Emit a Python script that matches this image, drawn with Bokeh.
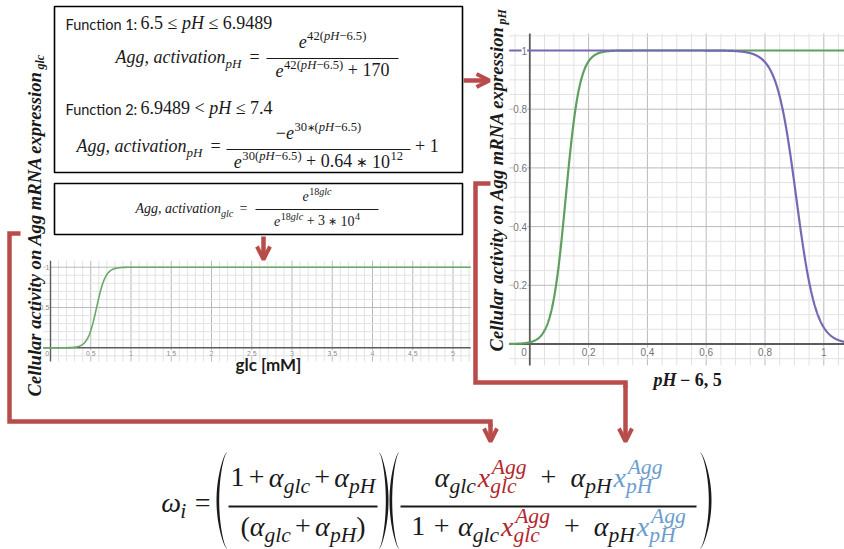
import numpy as np
from bokeh.plotting import figure
from bokeh.models import Range1d, ColumnDataSource, Arrow, OpenHead
from bokeh.embed import file_html
from bokeh.resources import INLINE

W, H = 844, 549

# colours and fonts
INK = "#1a1a1a"
RED = "#b84c4b"
GLC_RED = "#b3272d"
PH_BLUE = "#6b9ccf"
GREEN_GLC = "#6aa86a"
GREEN_PH = "#5f9f5f"
PURPLE = "#7568b5"
MINOR = "#e2e2e2"
MAJOR = "#bababa"
AXIS = "#5c5c5c"
SERIF = "Liberation Serif"
SANS = "Lato"
TICK_FONT = "Liberation Sans"

# activation curves: e^(k x) / (e^(k x) + c)
GLC_RATE, GLC_OFFSET = 18.0, 3.0e4
PH_RISE_RATE, PH_RISE_OFFSET = 42.0, 170.0
PH_FALL_RATE, PH_FALL_OFFSET = 30.0, 0.64e12

# tick marks
GLC_X_TICKS = [0, 0.5, 1, 1.5, 2, 2.5, 3, 3.5, 4, 4.5, 5]
GLC_X_LABELS = ["0", "0.5", "1", "1.5", "2", "2.5", "3", "3.5", "4", "4.5", "5"]
GLC_Y_TICKS = [0.5, 1]
GLC_Y_LABELS = ["0.5", "1"]
PH_X_TICKS = [0, 0.2, 0.4, 0.6, 0.8, 1]
PH_X_LABELS = ["0", "0.2", "0.4", "0.6", "0.8", "1"]
PH_Y_TICKS = [0.2, 0.4, 0.6, 0.8, 1]
PH_Y_LABELS = ["0.2", "0.4", "0.6", "0.8", "1"]

# visible windows of the two graphs (data units)
GLC_WIN_X = (-0.09, 5.22)
GLC_WIN_Y = (-0.17, 1.08)
PH_WIN_X = (-0.07, 1.07)
PH_WIN_Y = (-0.073, 1.058)

# placement of the graphs on the page: (pixel of zero, pixels per unit)
GLC_PX = (50.0, 80.5)
GLC_PY = (347.3, 80.6)
PH_PX = (529.3, 294.0)
PH_PY = (343.5, 293.5)

p = figure(width=W, height=H, x_range=Range1d(0, W), y_range=Range1d(H, 0),
           output_backend="svg", toolbar_location=None, min_border=0,
           x_axis_location=None, y_axis_location=None,
           background_fill_color="white", border_fill_color="white",
           outline_line_color=None)
p.xgrid.visible = False
p.ygrid.visible = False


def x_span(origin, scale):
    return Range1d(start=(0 - origin) / scale, end=(W - origin) / scale)


def y_span(origin, scale):
    return Range1d(start=(origin - H) / scale, end=origin / scale)


p.extra_x_ranges = {"glc": x_span(*GLC_PX), "ph": x_span(*PH_PX)}
p.extra_y_ranges = {"glc_act": y_span(*GLC_PY), "ph_act": y_span(*PH_PY)}

# ---------------------------------------------------------------- text helpers
texts = {}
BASE_SHIFT = 0.4   # alphabetic anchor correction, in em


def put(x, y, s, size, style="normal", color=INK, font=SERIF, align="left",
        baseline="alphabetic", angle=0.0, xr="default", yr="default", halo=False):
    if baseline == "alphabetic":
        if angle:
            x -= BASE_SHIFT * size
        else:
            y -= BASE_SHIFT * size
    key = (align, baseline, xr, yr, halo)
    d = texts.setdefault(key, {k: [] for k in
                               ("x", "y", "text", "size", "style", "color", "font", "angle")})
    d["x"].append(x)
    d["y"].append(y)
    d["text"].append(s)
    d["size"].append(f"{size:.1f}px")
    d["style"].append(style)
    d["color"].append(color)
    d["font"].append(font)
    d["angle"].append(angle)


STYLE = {"r": "normal", "i": "italic", "b": "bold", "bi": "bold italic"}
RM_W = dict.fromkeys("0123456789", 0.5)
RM_W.update({" ": 0.25, ".": 0.25, ",": 0.25, "+": 0.564, "=": 0.564, "<": 0.564,
             "≤": 0.549, "−": 0.564, "∗": 0.6, "(": 0.333, ")": 0.333,
             "[": 0.333, "]": 0.333})
IT_W = dict(RM_W)
IT_W.update({"A": 0.611, "H": 0.722, "a": 0.5, "c": 0.444, "e": 0.444, "g": 0.5,
             "i": 0.278, "l": 0.278, "n": 0.5, "o": 0.5, "p": 0.5, "t": 0.278,
             "v": 0.444, "x": 0.444, "α": 0.53, "ω": 0.68})


def seg_width(text, st, size):
    table = IT_W if "i" in st else RM_W
    return size * sum(table.get(c, 0.5) for c in text)


def T(*segs, color=INK):
    return ("t", segs, color)


def SUP(*segs, color=INK):
    return ("sup", segs, color)


def SUB(*segs, color=INK):
    return ("sub", segs, color)


def SS(sup, sub, color=INK):
    return ("ss", sup, sub, color)


def GAP(em):
    return ("gap", em)


def put_segs(segs, x, y, size, color, draw, font):
    # spaces are advanced over rather than drawn (svg drops edge whitespace)
    for text, st in segs:
        core = text.strip(" ")
        lead = seg_width(text[:len(text) - len(text.lstrip(" "))], st, size)
        if draw and core == "∗":
            put(x + lead + 0.3 * size, y - 0.05 * size, core, 0.8 * size, STYLE[st],
                color, font, align="center")
        elif draw and core:
            put(x + lead, y, core, size, STYLE[st], color, font)
        x += seg_width(text, st, size)
    return x


def layout(items, x, base, m, draw=True, font=SERIF, script=0.72):
    s = script * m
    for it in items:
        kind = it[0]
        if kind == "gap":
            x += it[1] * m
        elif kind == "t":
            x = put_segs(it[1], x, base, m, it[2], draw, font)
        elif kind == "sup":
            x = put_segs(it[1], x + 0.5, base - 0.42 * m, s, it[2], draw, font)
        elif kind == "sub":
            x = put_segs(it[1], x, base + 0.22 * m, s, it[2], draw, font)
        elif kind == "ss":
            x1 = put_segs(it[1], x + 0.06 * m, base - 0.46 * m, s, it[3], draw, font)
            x2 = put_segs(it[2], x, base + 0.22 * m, s, it[3], draw, font)
            x = max(x1, x2)
    return x


def layout_to(items, x_end, base, m, **kw):
    wid = layout(items, 0, 0, m, draw=False, **kw)
    return layout(items, x_end - wid, base, m, **kw)


bars = {"x0": [], "x1": [], "y": [], "w": []}


def bar(x0, x1, y, lw):
    bars["x0"].append(x0)
    bars["x1"].append(x1)
    bars["y"].append(y)
    bars["w"].append(lw)


def fraction(x0, x1, bar_y, num, den, m, num_base, den_base, lw=1.2, script=0.72):
    bar(x0, x1, bar_y, lw)
    for items, base in ((num, num_base), (den, den_base)):
        wid = layout(items, 0, 0, m, draw=False, script=script)
        layout(items, (x0 + x1 - wid) / 2, base, m, script=script)
    return x1


def paren(x_tip, x_out, y0, y1, weight=2.3):
    t = np.linspace(0.0, 1.0, 60)
    s = np.sin(np.pi * t)
    ys = y0 + (y1 - y0) * t
    outer = x_tip + (x_out - x_tip) * s ** 0.7
    inner = outer + np.sign(x_tip - x_out) * (0.4 + weight * s)
    p.patch(np.r_[outer, inner[::-1]], np.r_[ys, ys[::-1]],
            fill_color=INK, line_color=None)


# ---------------------------------------------------------------- graph grids
def grid(xr, yr, win_x, win_y, minor, per_major, axis_w):
    for vertical, win in ((True, win_x), (False, win_y)):
        ks = np.arange(int(np.ceil(win[0] / minor - 1e-9)),
                       int(np.floor(win[1] / minor + 1e-9)) + 1)
        for major, color in ((False, MINOR), (True, MAJOR)):
            vals = np.array([k * minor for k in ks if k != 0 and (k % per_major == 0) == major])
            if len(vals) == 0:
                continue
            if vertical:
                p.segment(x0=vals, y0=win_y[0], x1=vals, y1=win_y[1], line_color=color,
                          line_width=1, x_range_name=xr, y_range_name=yr)
            else:
                p.segment(x0=win_x[0], y0=vals, x1=win_x[1], y1=vals, line_color=color,
                          line_width=1, x_range_name=xr, y_range_name=yr)
    p.segment(x0=[win_x[0], 0], y0=[0, win_y[0]], x1=[win_x[1], 0], y1=[0, win_y[1]],
              line_color=AXIS, line_width=axis_w, x_range_name=xr, y_range_name=yr)


grid("glc", "glc_act", GLC_WIN_X, GLC_WIN_Y, 0.1, 5, 1.4)
grid("ph", "ph_act", PH_WIN_X, PH_WIN_Y, 0.05, 4, 1.8)

# ---------------------------------------------------------------- curves
glc = np.linspace(*GLC_WIN_X, 800)
glc_act = 1.0 / (1.0 + GLC_OFFSET * np.exp(-GLC_RATE * glc))
p.line(glc, glc_act, line_color=GREEN_GLC, line_width=1.6,
       x_range_name="glc", y_range_name="glc_act")

ph = np.linspace(*PH_WIN_X, 1200)
ph_rise = 1.0 / (1.0 + PH_RISE_OFFSET * np.exp(-PH_RISE_RATE * ph))
ph_fall = 1.0 - 1.0 / (1.0 + PH_FALL_OFFSET * np.exp(-PH_FALL_RATE * ph))
p.line(ph, ph_rise, line_color=GREEN_PH, line_width=2.2,
       x_range_name="ph", y_range_name="ph_act")
p.line(ph, ph_fall, line_color=PURPLE, line_width=2.2,
       x_range_name="ph", y_range_name="ph_act")

# ---------------------------------------------------------------- tick labels
for v, lab in zip(GLC_X_TICKS, GLC_X_LABELS):
    put(v if v else -0.04, -0.065, lab, 7, color="#8a8a8a", font=TICK_FONT,
        align="center", baseline="middle", xr="glc", yr="glc_act", halo=True)
for v, lab in zip(GLC_Y_TICKS, GLC_Y_LABELS):
    put(-0.015, v, lab, 7, color="#8a8a8a", font=TICK_FONT,
        align="right", baseline="middle", xr="glc", yr="glc_act", halo=True)
for v, lab in zip(PH_X_TICKS, PH_X_LABELS):
    put(v if v else -0.02, -0.026, lab, 10, color="#747474", font=TICK_FONT,
        align="center", baseline="middle", xr="ph", yr="ph_act", halo=True)
for v, lab in zip(PH_Y_TICKS, PH_Y_LABELS):
    put(-0.009, v, lab, 10, color="#747474", font=TICK_FONT,
        align="right", baseline="middle", xr="ph", yr="ph_act", halo=True)

# axis titles
put(268, 371, "glc [mM]", 17, "bold", INK, SANS, align="center")
layout([T(("pH", "bi"), (" − 6, 5", "b"))], 653, 387, 18)

put(41, 70, "Cellular activity on Agg mRNA expression", 18.6, "bold italic",
    align="right", angle=np.pi / 2)
put(44, 69, "glc", 12, "bold italic", align="left", angle=np.pi / 2)
put(503, 25, "Cellular activity on Agg mRNA expression", 18.6, "bold italic",
    align="right", angle=np.pi / 2)
put(506, 24, "pH", 12, "bold italic", align="left", angle=np.pi / 2)

# ---------------------------------------------------------------- formula boxes
p.quad(left=[54, 54], right=[462, 462], top=[6, 183], bottom=[172, 234],
       fill_color="white", line_color="black", line_width=1.6)

EQ = 18
put(65, 30, "Function 1:", 14.5, font=SANS)
layout([T(("6.5 ≤ ", "r"), ("pH", "i"), (" ≤ 6.9489", "r"))], 140, 30, 18)
lhs_ph = [T(("Agg, activation", "i")), SUB(("pH", "i")), GAP(0.45), T(("=", "r"))]
layout(lhs_ph, 115, 64, EQ)
ph_sup = [("42(", "r"), ("pH", "i"), ("−6.5)", "r")]
fraction(266, 398, 58, [T(("e", "i")), SUP(*ph_sup)],
         [T(("e", "i")), SUP(*ph_sup), T((" + 170", "r"))], EQ, 48, 77, script=0.7)

put(65, 115, "Function 2:", 14.5, font=SANS)
layout([T(("6.9489 < ", "r"), ("pH", "i"), (" ≤ 7.4", "r"))], 140, 115, 18)
layout(lhs_ph, 76, 153, EQ)
fraction(226, 410, 149,
         [T(("−", "r"), ("e", "i")),
          SUP(("30", "r"), ("∗", "r"), ("(", "r"), ("pH", "i"), ("−6.5)", "r"))],
         [T(("e", "i")), SUP(("30(", "r"), ("pH", "i"), ("−6.5)", "r")),
          T((" + 0.64 ", "r"), ("∗", "r"), (" 10", "r")), SUP(("12", "r"))],
         EQ, 139, 168, script=0.7)
layout([T((" + 1", "r"))], 410, 153, EQ)

layout_to([T(("Agg, activation", "i")), SUB(("glc", "i")), GAP(0.45), T(("=", "r"))],
          247, 214, 14)
fraction(255, 378, 209, [T(("e", "i")), SUP(("18", "r"), ("glc", "i"))],
         [T(("e", "i")), SUP(("18", "r"), ("glc", "i")),
          T((" + 3 ", "r"), ("∗", "r"), (" 10", "r")), SUP(("4", "r"))], 14, 201, 226)

# ---------------------------------------------------------------- combined formula
M = 28
SC = 0.77
NB, DB, BAR_Y = 488, 537, 506
Y0, Y1 = 452, 548
layout_to([T(("ω", "i")), SUB(("i", "i")), GAP(0.3), T(("=", "r"))], 210, 513, M, script=SC)
paren(226, 216, Y0, Y1)
plus = [GAP(0.15), T(("+", "r")), GAP(0.15)]
fraction(228, 377, BAR_Y,
         [T(("1", "r"))] + plus + [T(("α", "i")), SUB(("glc", "i"))] + plus +
         [T(("α", "i")), SUB(("pH", "i"))],
         [T(("(", "r"), ("α", "i")), SUB(("glc", "i"))] + plus +
         [T(("α", "i")), SUB(("pH", "i")), T((")", "r"))],
         M, NB, DB, lw=1.8, script=SC)
paren(379, 388, Y0, Y1)
paren(398, 389, Y0, Y1)

glc_term = [T(("α", "i")), SUB(("glc", "i")), GAP(0.07), T(("x", "i"), color=GLC_RED),
            SS((("Agg", "i"),), (("glc", "i"),), GLC_RED)]
ph_term = [T(("α", "i")), SUB(("pH", "i")), GAP(0.07), T(("x", "i"), color=PH_BLUE),
           SS((("Agg", "i"),), (("pH", "i"),), PH_BLUE)]
wide_plus = [GAP(0.5), T(("+", "r")), GAP(0.5)]
fraction(400, 696, BAR_Y,
         glc_term + wide_plus + ph_term,
         [T(("1", "r")), GAP(0.3), T(("+", "r")), GAP(0.3)] + glc_term + wide_plus + ph_term,
         M, NB, DB, lw=1.8, script=SC)
paren(700, 711, Y0, Y1)

p.segment(x0="x0", y0="y", x1="x1", y1="y", line_width="w", line_color=INK,
          source=ColumnDataSource(bars))

# ---------------------------------------------------------------- connectors
p.line([20, 9, 9, 490, 490], [233, 233, 421, 421, 426], line_color=RED,
       line_width=4.5, line_join="miter")
p.line([490, 475, 475, 625, 625], [183, 183, 382, 382, 387], line_color=RED,
       line_width=4.5, line_join="miter")
for xs, ys, xe, ye in ((490, 424, 490, 441), (625, 385, 625, 441),
                       (463, 80, 489, 80), (263, 236, 263, 259)):
    p.add_layout(Arrow(end=OpenHead(size=13, line_color=RED, line_width=4),
                       x_start=xs, y_start=ys, x_end=xe, y_end=ye,
                       line_color=RED, line_width=4.5))

# ---------------------------------------------------------------- render texts
for (align, baseline, xr, yr, halo), d in texts.items():
    kw = {}
    if xr != "default":
        kw["x_range_name"] = xr
    if yr != "default":
        kw["y_range_name"] = yr
    if halo:
        kw["background_fill_color"] = "white"
    p.text(x="x", y="y", text="text", source=ColumnDataSource(d), text_font="font",
           text_font_size="size", text_font_style="style", text_color="color",
           angle="angle", text_align=align, text_baseline=baseline, **kw)

open("out.html", "w").write(file_html(p, INLINE))
